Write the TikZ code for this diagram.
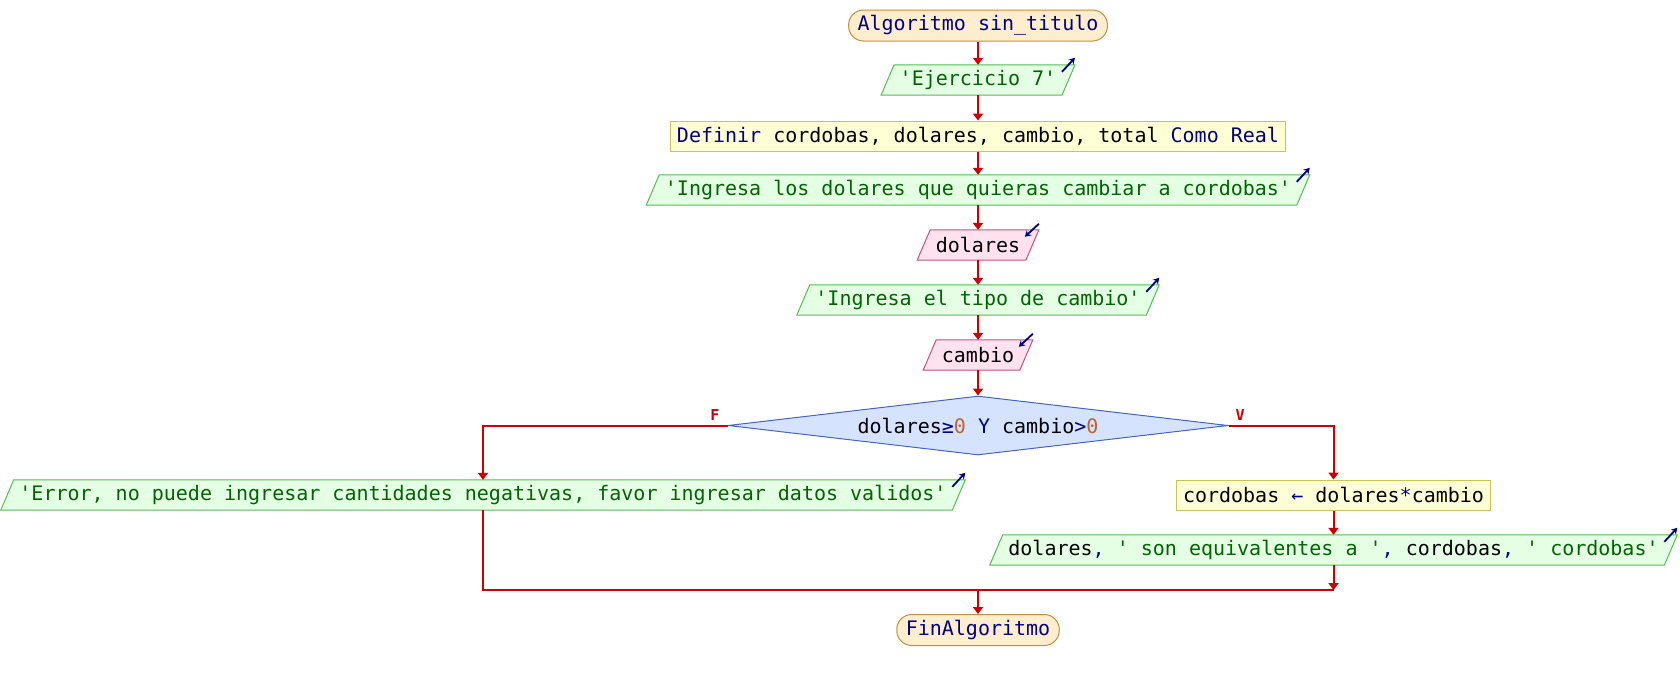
\documentclass[tikz,border=0pt]{standalone}
\usepackage{fontspec}
\setmonofont{DejaVu Sans Mono}
\usetikzlibrary{shapes.geometric, arrows.meta, calc}
\pgfdeclarelayer{bg}
\pgfsetlayers{bg,main}
\definecolor{kw}{RGB}{0,0,128}
\definecolor{strc}{RGB}{0,100,0}
\definecolor{numc}{RGB}{190,100,50}
\definecolor{termF}{RGB}{255,238,206}
\definecolor{termB}{RGB}{200,140,60}
\definecolor{procF}{RGB}{255,255,214}
\definecolor{procB}{RGB}{205,195,85}
\definecolor{outF}{RGB}{228,255,228}
\definecolor{outB}{RGB}{85,190,85}
\definecolor{inF}{RGB}{255,226,238}
\definecolor{inB}{RGB}{200,80,130}
\definecolor{condF}{RGB}{214,227,255}
\definecolor{condB}{RGB}{70,100,200}
\definecolor{flowR}{RGB}{204,0,0}
\tikzset{
  every node/.style={font=\ttfamily\fontsize{20}{24}\selectfont},
  term/.style={draw=termB, fill=termF, line width=1pt, rounded corners=15pt, inner xsep=9pt, inner ysep=0pt, minimum height=31pt, text=kw},
  proc/.style={draw=procB, fill=procF, line width=1pt, inner xsep=6.5pt, inner ysep=0pt, minimum height=30pt},
  iotxt/.style={inner xsep=12pt, inner ysep=0pt, minimum height=30pt},
  outshape/.style={draw=outB, fill=outF, line width=1pt},
  inshape/.style={draw=inB, fill=inF, line width=1pt},
  cond/.style={diamond, draw=condB, fill=condF, line width=1pt, aspect=8.47, minimum width=500pt, minimum height=59pt, inner sep=0pt},
  flowline/.style={draw=flowR, line width=2pt},
  flow/.style={flowline, -{Triangle[width=10pt,length=7pt]}},
  icon/.style={draw=kw, line width=1.8pt, -{Stealth[length=6pt,width=7pt]}},
  lab/.style={text=flowR, font=\ttfamily\bfseries\fontsize{15}{18}\selectfont, inner sep=0pt},
}
\newcommand\outpara[1]{%
  \begin{pgfonlayer}{bg}
    \path[outshape] ($(#1.north west)+(6.5,0)$) -- ($(#1.north east)+(6.5,0)$) -- ($(#1.south east)+(-6.5,0)$) -- ($(#1.south west)+(-6.5,0)$) -- cycle;
  \end{pgfonlayer}
  \draw[icon] ($(#1.north east)+(-6.5,7)$) -- ($(#1.north east)+(6.5,-7)$);
}
\newcommand\inpara[1]{%
  \begin{pgfonlayer}{bg}
    \path[inshape] ($(#1.north west)+(6.5,0)$) -- ($(#1.north east)+(6.5,0)$) -- ($(#1.south east)+(-6.5,0)$) -- ($(#1.south west)+(-6.5,0)$) -- cycle;
  \end{pgfonlayer}
  \draw[icon] ($(#1.north east)+(6.5,-6)$) -- ($(#1.north east)+(-7.5,7)$);
}
\begin{document}
\frenchspacing
\begin{tikzpicture}[x=1pt, y=-1pt]
  \begin{pgfonlayer}{bg}
    \fill[white] (0,0) rectangle (1680,680);
  \end{pgfonlayer}
  \useasboundingbox (0,0) rectangle (1680,680);

  \node[term] (start) at (978,25.5) {Algoritmo sin\_titulo};
  \node[iotxt, text=strc] (ej) at (978,80) {'Ejercicio 7'};
  \outpara{ej}
  \node[proc] (def) at (978,136) {\textcolor{kw}{Definir} cordobas, dolares, cambio, total \textcolor{kw}{Como Real}};
  \node[iotxt, text=strc] (ing1) at (978,190) {'Ingresa los dolares que quieras cambiar a cordobas'};
  \outpara{ing1}
  \node[iotxt] (dol) at (978,245) {dolares};
  \inpara{dol}
  \node[iotxt, text=strc] (ing2) at (978,300) {'Ingresa el tipo de cambio'};
  \outpara{ing2}
  \node[iotxt] (cam) at (978,355) {cambio};
  \inpara{cam}
  \node[cond] (dia) at (978,425.5) {dolares\textcolor{kw}{≥}\textcolor{numc}{0}~\textcolor{kw}{Y}~cambio\textcolor{kw}{>}\textcolor{numc}{0}};
  \node[lab] (lf) at (715,415.5) {F};
  \node[lab] (lv) at (1240,415.5) {V};
  \node[iotxt, text=strc] (err) at (483,495) {'Error, no puede ingresar cantidades negativas, favor ingresar datos validos'};
  \outpara{err}
  \node[proc] (cord) at (1333.5,495) {cordobas \textcolor{kw}{←} dolares\textcolor{kw}{*}cambio};
  \node[iotxt, text=strc] (out) at (1333.5,550) {\textcolor{black}{dolares}\textcolor{kw}{,} ' son equivalentes a '\textcolor{kw}{,} \textcolor{black}{cordobas}\textcolor{kw}{,} ' cordobas'};
  \outpara{out}
  \node[term] (end) at (978,630) {FinAlgoritmo};

  \coordinate (jl) at (483,590);
  \coordinate (jr) at (1333.5,590);
  \coordinate (jm) at (978,590);

  \draw[flow] (start) -- (ej);
  \draw[flow] (ej) -- (def);
  \draw[flow] (def) -- (ing1);
  \draw[flow] (ing1) -- (dol);
  \draw[flow] (dol) -- (ing2);
  \draw[flow] (ing2) -- (cam);
  \draw[flow] (cam) -- (dia);
  \draw[flow] (dia.west) -| (err.north);
  \draw[flow] (dia.east) -| (cord.north);
  \draw[flow] (cord) -- (out);
  \draw[flowline] (err.south) -- (jl) -- (jr);
  \draw[flow] (out.south) -- (jr);
  \draw[flow] (jm) -- (end.north);
\end{tikzpicture}
\end{document}
